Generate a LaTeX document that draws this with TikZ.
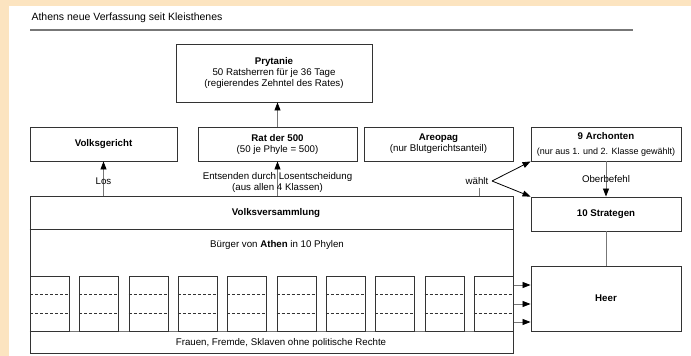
\documentclass[tikz,border=0pt]{standalone}
\usepackage{fontspec}
\setmainfont{Liberation Sans}
\usetikzlibrary{arrows.meta}

\definecolor{rahmen}{HTML}{FCE4C0}
\definecolor{linie}{HTML}{777777}
\definecolor{kante}{HTML}{333333}

\begin{document}
\begin{tikzpicture}[x=1pt, y=-1pt,
    >={Triangle[length=8pt, width=6pt, color=black]},
    every node/.style={font=\fontsize{9.7}{11}\selectfont},
    box/.style={draw=kante, line width=0.9pt, rectangle, align=center, inner sep=0pt},
    phylebox/.style={draw=kante, line width=0.7pt, rectangle, anchor=north west,
        minimum width=39pt, minimum height=55pt, inner sep=0pt},
    con/.style={draw=linie, line width=0.8pt}]

    % Background and frame
    \fill[rahmen] (0,0) rectangle (691,356);
    \fill[white] (9,6) rectangle (691,356);
    \useasboundingbox (0,0) rectangle (691,356);

    % Title
    \node[anchor=west, font=\fontsize{10.5}{12}\selectfont] (titel) at (28,18) {Athens neue Verfassung seit Kleisthenes};
    \draw[linie, line width=1.2pt] (30,30) -- (633,30);

    % Upper boxes
    \node[box, minimum width=196pt, minimum height=58pt] (prytanie) at (274,73)
        {\textbf{Prytanie}\\50 Ratsherren für je 36 Tage\\(regierendes Zehntel des Rates)};
    \node[box, minimum width=147pt, minimum height=34pt] (gericht) at (103.5,144) {\textbf{Volksgericht}};
    \node[box, minimum width=159pt, minimum height=34pt] (rat) at (277.5,144)
        {\textbf{Rat der 500}\\(50 je Phyle = 500)};
    \node[box, minimum width=149pt, minimum height=34pt] (areopag) at (438.5,144)
        {\textbf{Areopag}\\(nur Blutgerichtsanteil)};
    \node[box, minimum width=150pt, minimum height=34pt] (archonten) at (606,144)
        {\textbf{9 Archonten}\\[4pt]{\fontsize{9}{11}\selectfont(nur aus 1. und 2. Klasse gewählt)}};

    % Right column
    \node[box, minimum width=150pt, minimum height=34pt] (strategen) at (606,214) {\textbf{10 Strategen}};
    \node[box, minimum width=150pt, minimum height=65pt] (heer) at (606,298.5) {\textbf{Heer}};

    % Volksversammlung
    \node[box, line width=1pt, minimum width=483pt, minimum height=157pt] (volk) at (271.5,274.5) {};
    \node (vtitel) at (276,213) {\textbf{Volksversammlung}};
    \draw[kante, line width=0.8pt] (volk.west |- 0,229.5) -- (volk.east |- 0,229.5);
    \node (buerger) at (277,245) {Bürger von \textbf{Athen} in 10 Phylen};
    \draw[linie, line width=0.8pt] (volk.west |- 0,331) -- (volk.east |- 0,331);
    \node (rechte) at (281,342.5) {Frauen, Fremde, Sklaven ohne politische Rechte};

    % Phylen
    \foreach \i in {0,...,9} {
        \node[phylebox] (phyle\i) at (30+49.33*\i,276) {};
        \draw[kante, line width=0.6pt, dash pattern=on 3pt off 2pt] (phyle\i.west |- 0,294.5) -- (phyle\i.east |- 0,294.5);
        \draw[kante, line width=0.6pt, dash pattern=on 3pt off 2pt] (phyle\i.west |- 0,313) -- (phyle\i.east |- 0,313);
    }

    % Connectors
    \draw[con, ->] (rat.north) -- (rat.north |- prytanie.south);
    \draw[con, ->] (gericht |- volk.north) -- node[pos=0.43] {Los} (gericht);
    \draw[con, ->] (rat |- volk.north) -- node[pos=0.37, align=center]
        {Entsenden durch Losentscheidung\\(aus allen 4 Klassen)} (rat);

    % Election of the magistrates
    \coordinate (wfuss) at (479,196);
    \node (waehlt) at (477,181) {wählt};
    \coordinate (wspitze) at (492,181);
    \draw[con] (wfuss) -- (wfuss |- waehlt.south);
    \draw[->, black, line width=0.8pt] (wspitze) -- (archonten.south west);
    \draw[->, black, line width=0.8pt] (wspitze) -- (strategen.north west);
    \draw[con, ->] (archonten) -- node {Oberbefehl} (strategen);
    \draw[con] (strategen) -- (heer);

    % Citizens to the army
    \foreach \y in {285,304,322}
        \draw[con, ->] (volk.east |- 0,\y) -- (heer.west |- 0,\y);

\end{tikzpicture}
\end{document}
